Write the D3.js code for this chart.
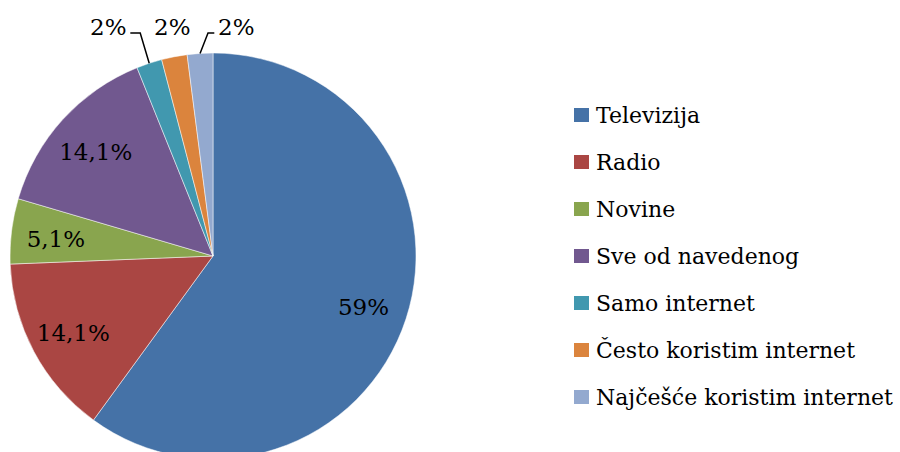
<!DOCTYPE html>
<html>
<head>
<meta charset="utf-8">
<script src="https://cdn.jsdelivr.net/npm/d3@7"></script>
<style>
  body { margin: 0; background: #fff; }
  svg text { font-family: "DejaVu Serif", serif; fill: #000; }
</style>
</head>
<body>
<svg id="chart" width="900" height="452"></svg>
<script>
// chart data
const categories = ["Televizija", "Radio", "Novine", "Sve od navedenog", "Samo internet", "Često koristim internet", "Najčešće koristim internet"];
const values = [59, 14.1, 5.1, 14.1, 2, 2, 2];
const valueLabels = ["59%", "14,1%", "5,1%", "14,1%", "2%", "2%", "2%"];
const colors = ["#4572A7", "#AA4643", "#89A54E", "#71588F", "#4198AF", "#DB843D", "#93A9CF"];

const width = 900, height = 452;
const cx = 213, cy = 256, radius = 203;

const svg = d3.select("#chart");
const g = svg.append("g").attr("transform", "translate(" + cx + "," + cy + ")");

const data = categories.map((c, i) => ({ name: c, value: values[i], label: valueLabels[i], color: colors[i] }));

const pie = d3.pie().sort(null).value(d => d.value);
const arcs = pie(data);
const arc = d3.arc().innerRadius(0).outerRadius(radius);
const labelArc = d3.arc().innerRadius(radius * 0.78).outerRadius(radius * 0.78);

g.selectAll("path.slice")
  .data(arcs)
  .enter()
  .append("path")
    .attr("class", "slice")
    .attr("d", arc)
    .attr("fill", d => d.data.color)
    .attr("stroke", "#fff")
    .attr("stroke-width", 0.5);

// big slices: label inside
const inside = arcs.filter(d => d.data.value >= 5);
g.selectAll("text.inlabel")
  .data(inside)
  .enter()
  .append("text")
    .attr("class", "inlabel")
    .attr("x", d => labelArc.centroid(d)[0])
    .attr("y", d => labelArc.centroid(d)[1])
    .attr("text-anchor", "middle")
    .attr("dy", "0.45em")
    .style("font-size", "23px")
    .text(d => d.data.label);

// small slices: labels above the pie, with leader lines
const outside = arcs.filter(d => d.data.value < 5);
const mid = d => (d.startAngle + d.endAngle) / 2;
const edge = d => [radius * Math.sin(mid(d)), -radius * Math.cos(mid(d))];
const spacing = 64, labelY = -radius - 26, lineY = -radius - 20;
const midIdx = (outside.length - 1) / 2;
outside.forEach((d, i) => {
  const e = edge(d);
  d.lx = edge(outside[Math.round(midIdx)])[0] - 2 + (i - midIdx) * spacing;
  d.ex = e[0]; d.ey = e[1];
});

outside.forEach(d => {
  const diff = d.lx - d.ex;
  if (Math.abs(diff) < 20) return;
  const side = diff < 0 ? 1 : -1;
  const pts = [[d.ex, d.ey], [d.ex + diff * 0.22, lineY], [d.lx + side * 22, lineY]];
  g.append("path")
    .attr("d", d3.line()(pts))
    .attr("fill", "none")
    .attr("stroke", "#000")
    .attr("stroke-width", 1.5);
});

g.selectAll("text.outlabel")
  .data(outside)
  .enter()
  .append("text")
    .attr("class", "outlabel")
    .attr("x", d => d.lx)
    .attr("y", labelY)
    .attr("text-anchor", "middle")
    .attr("dy", "0.35em")
    .style("font-size", "23px")
    .text(d => d.data.label);

// legend
const legendY = d3.scalePoint().domain(categories).range([115, 397]);
const legend = svg.append("g").attr("transform", "translate(574,0)");
const items = legend.selectAll("g.item")
  .data(data)
  .enter()
  .append("g")
    .attr("class", "item")
    .attr("transform", d => "translate(0," + legendY(d.name) + ")");

items.append("rect")
  .attr("x", 0)
  .attr("y", -7)
  .attr("width", 15)
  .attr("height", 14)
  .attr("fill", d => d.color);

items.append("text")
  .attr("x", 22)
  .attr("y", 0)
  .attr("dy", "0.38em")
  .style("font-size", "22px")
  .text(d => d.name);
</script>
</body>
</html>
